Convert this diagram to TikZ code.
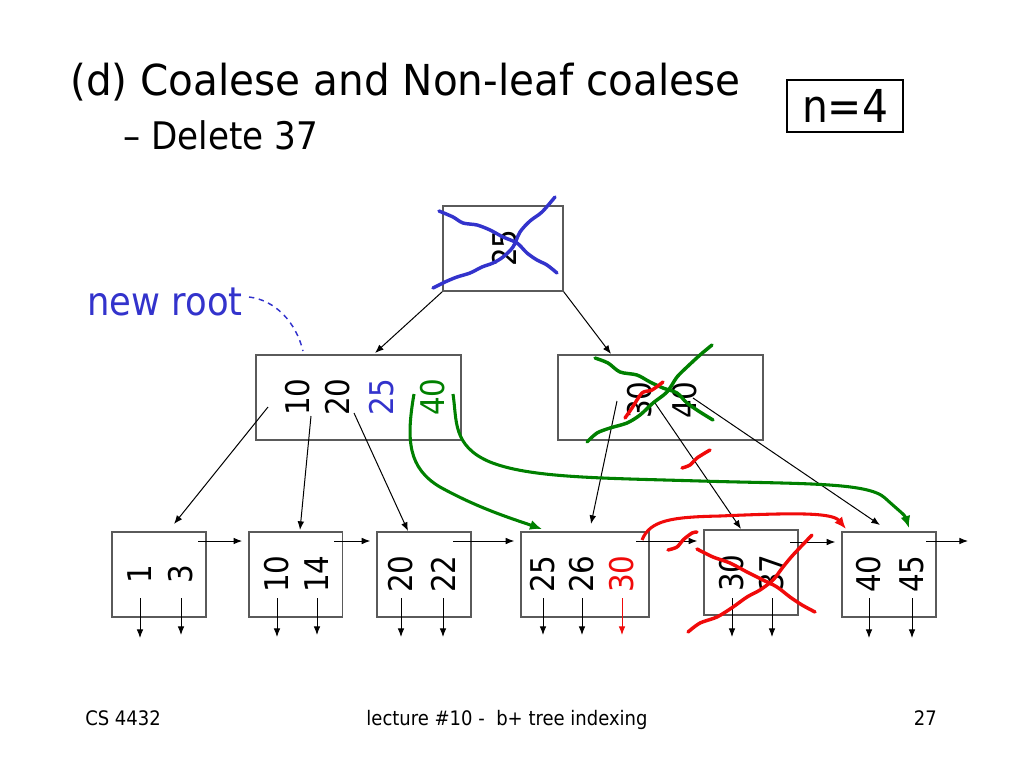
\documentclass[tikz,border=0pt]{standalone}
\usepackage{fontspec}
\setmainfont{DejaVu Sans}[FakeStretch=0.9]
\newfontfamily\headfont{DejaVu Sans}[FakeStretch=0.95]
\usepackage{tikz}
\usetikzlibrary{arrows,arrows.meta}
\definecolor{rootblue}{RGB}{51,51,204}
\definecolor{movegreen}{RGB}{0,128,0}
\definecolor{delred}{RGB}{240,10,10}
\definecolor{boxgray}{RGB}{90,90,90}
\tikzset{
  keybox/.style={draw=boxgray, line width=1pt, minimum height=63.75pt, inner sep=0pt},
  key/.style={rotate=90, inner sep=0pt, font=\fontsize{24.5}{28}\selectfont},
  ptr/.style={black, line width=0.75pt, ->, >={Latex[length=6.5pt,width=5pt]}},
  nextptr/.style={ptr, shorten >=4.5pt},
  scribble/.style={line width=2.6pt, line cap=round, line join=round},
  move/.style={line width=2.3pt, ->, >={Latex[length=9pt,width=7.5pt]}},
  label/.style={anchor=base west, inner sep=0pt}
}

\begin{document}
\begin{tikzpicture}[x=0.75pt, y=-0.75pt]
   \useasboundingbox (0,0) rectangle (1024,768);
   % heading
   \node (title) [label, font=\headfont\fontsize{32}{38}\selectfont] at (70,95) {(d) Coalese and Non-leaf coalese};
   \node (sub) [label, font=\fontsize{28.5}{34}\selectfont] at (123,149) {– Delete 37};
   \node (order) [draw, line width=1.1pt, minimum width=87pt, minimum height=39pt, font=\fontsize{34}{40}\selectfont] at (845,106) {n=4};
   % root and inner nodes
   \node (r) [keybox, minimum width=90pt] at (503,248.5) {};
   \node (rk) [key] at (505,248) {25};
   \node (m1) [keybox, minimum width=153.75pt] at (358.5,397.5) {};
   \node (m1a) [key] at (298,397) {10};
   \node (m1b) [key] at (338,397) {20};
   \node (m1c) [key, rootblue] at (382,397) {25};
   \node (m1d) [key, movegreen] at (433,397) {40};
   \node (m2) [keybox, minimum width=153.75pt] at (660.5,397.5) {};
   \node (m2a) [key] at (640,400) {30};
   \node (m2b) [key] at (685,400) {40};
   % leaves
   \node (l1) [keybox, minimum width=70.5pt] at (159,574.5) {};
   \node (l1a) [key] at (140,574) {1};
   \node (l1b) [key] at (181,574) {3};
   \node (l2) [keybox, minimum width=70pt] at (295.5,574.5) {};
   \node (l2a) [key] at (277,574) {10};
   \node (l2b) [key] at (317,574) {14};
   \node (l3) [keybox, minimum width=70.5pt] at (424,574.5) {};
   \node (l3a) [key] at (401,574) {20};
   \node (l3b) [key] at (443,574) {22};
   \node (l4) [keybox, minimum width=96pt] at (585,574.5) {};
   \node (l4a) [key] at (543,574) {25};
   \node (l4b) [key] at (582,574) {26};
   \node (l4c) [key, delred] at (622,574) {30};
   \node (l5) [keybox, minimum width=70.5pt] at (751,572.5) {};
   \node (l5a) [key] at (732,573) {30};
   \node (l5b) [key] at (772,573) {37};
   \node (l6) [keybox, minimum width=70.5pt] at (889,574.5) {};
   \node (l6a) [key] at (869,574) {40};
   \node (l6b) [key] at (912,574) {45};
   % pointer slots and targets
   \coordinate (m1top) at (375,353);
   \coordinate (m2top) at (611,354);
   \coordinate (m1s0) at (268,407);
   \coordinate (m1s1) at (311,416);
   \coordinate (m1s2) at (354,413);
   \coordinate (m2s0) at (617,401);
   \coordinate (m2s1) at (655,403);
   \coordinate (m2s2) at (693,398);
   \coordinate (l1top) at (174,524);
   \coordinate (l2top) at (300,530);
   \coordinate (l3top) at (408,531);
   \coordinate (l4top) at (591,524);
   \coordinate (l5top) at (741,529);
   \coordinate (l6top) at (880,525);
   \coordinate (c1) at (198,541);
   \coordinate (c2) at (334,541);
   \coordinate (c3) at (453,541);
   \coordinate (c4) at (636,541);
   \coordinate (c5) at (790,542);
   \coordinate (c6) at (926,541);
   \coordinate (c7) at (968,541);
   \coordinate (leafbot) at (0,598);
   % tree pointers
   \draw [ptr] (r.south west) -- (m1top);
   \draw [ptr] (r.south east) -- (m2top);
   \draw [ptr] (m1s0) -- (l1top);
   \draw [ptr] (m1s1) -- (l2top);
   \draw [ptr] (m1s2) -- (l3top);
   \draw [ptr] (m2s0) -- (l4top);
   \draw [ptr] (m2s1) -- (l5top);
   \draw [ptr] (m2s2) -- (l6top);
   % leaf chain
   \draw [nextptr] (c1) -- (c1 -| l2.west);
   \draw [nextptr] (c2) -- (c2 -| l3.west);
   \draw [nextptr] (c3) -- (c3 -| l4.west);
   \draw [nextptr] (c4) -- (c4 -| l5.west);
   \draw [nextptr] (c5) -- (c5 -| l6.west);
   \draw [ptr] (c6) -- (c7);
   % record pointers
   \draw [ptr] (l1a |- leafbot) -- ++(0,40);
   \draw [ptr] (l1b |- leafbot) -- ++(0,37);
   \draw [ptr] (l2a |- leafbot) -- ++(0,39);
   \draw [ptr] (l2b |- leafbot) -- ++(0,37);
   \draw [ptr] (l3a |- leafbot) -- ++(0,39);
   \draw [ptr] (l3b |- leafbot) -- ++(0,39);
   \draw [ptr] (l4a |- leafbot) -- ++(0,37);
   \draw [ptr] (l4b |- leafbot) -- ++(0,37);
   \draw [ptr, delred] (l4c |- leafbot) -- ++(0,37);
   \draw [ptr] (l5a |- leafbot) -- ++(0,39);
   \draw [ptr] (l5b |- leafbot) -- ++(0,39);
   \draw [ptr] (l6a |- leafbot) -- ++(0,40);
   \draw [ptr] (l6b |- leafbot) -- ++(0,40);
   % new root note
   \node (newroot) [label, rootblue, font=\fontsize{29.5}{34}\selectfont] at (87,315) {new root};
   \coordinate (rootnote) at (249,297);
   \coordinate (rootmark) at (303,351);
   \draw [rootblue, line width=1.1pt, dash pattern=on 4pt off 3.5pt] (rootnote) .. controls (275,300) and (296,322) .. (rootmark);
   % moved keys
   \coordinate (l4in) at (542,529);
   \coordinate (l6in) at (909,528);
   \coordinate (l6red) at (846,529);
   \draw [move, movegreen] (414,394) .. controls (406,440) and (408,468) .. (440,487) .. controls (478,508) and (510,518) .. (l4in);
   \draw [move, movegreen] (453,394) .. controls (457,420) and (452,446) .. (490,462) .. controls (530,478) and (600,478) .. (700,481) .. controls (800,484) and (868,482) .. (885,498) .. controls (898,510) and (905,515) .. (l6in);
   \draw [move, delred] (642,540) .. controls (650,520) and (672,517) .. (720,516) .. controls (790,513) and (832,512) .. (l6red);
   % crossed out
   \draw [scribble, rootblue] plot [smooth] coordinates {(439,211) (453,217) (463,223) (477,225) (490,230) (503,237) (517,243) (527,253) (537,260) (547,265) (557,273)};
   \draw [scribble, rootblue] plot [smooth] coordinates {(433,288) (445,282) (457,277) (470,273) (482,267) (493,263) (503,257) (513,247) (520,232) (530,221) (542,212) (555,197)};
   \draw [scribble, movegreen] plot [smooth] coordinates {(595,358) (608,363) (620,372) (637,375) (650,382) (663,388) (677,393) (687,403) (700,412) (713,420)};
   \draw [scribble, movegreen] plot [smooth] coordinates {(587,442) (597,433) (610,428) (627,423) (640,415) (653,403) (667,392) (677,377) (687,367) (700,355) (712,345)};
   \draw [scribble, delred] plot [smooth] coordinates {(625,418) (632,408) (642,393) (652,390) (663,382)};
   \draw [scribble, delred] plot [smooth] coordinates {(682,468) (690,465) (697,458) (710,450)};
   \draw [scribble, delred] plot [smooth] coordinates {(668,550) (677,547) (683,540) (692,533) (697,532)};
   \draw [scribble, delred] plot [smooth] coordinates {(697,549) (713,557) (730,563) (747,572) (763,580) (777,587) (790,597) (802,605) (815,612)};
   \draw [scribble, delred] plot [smooth] coordinates {(688,632) (700,623) (717,617) (733,607) (747,597) (760,590) (773,580) (783,567) (793,555) (812,535)};
   % footer
   \node (course) [label, font=\fontsize{15}{18}\selectfont] at (85,725) {CS 4432};
   \node (lecture) [anchor=base, inner sep=0pt, font=\fontsize{15}{18}\selectfont] at (507,725) {lecture \#10 -~~b+ tree indexing};
   \node (page) [anchor=base east, inner sep=0pt, font=\fontsize{15}{18}\selectfont] at (937,725) {27};
\end{tikzpicture}
\end{document}
